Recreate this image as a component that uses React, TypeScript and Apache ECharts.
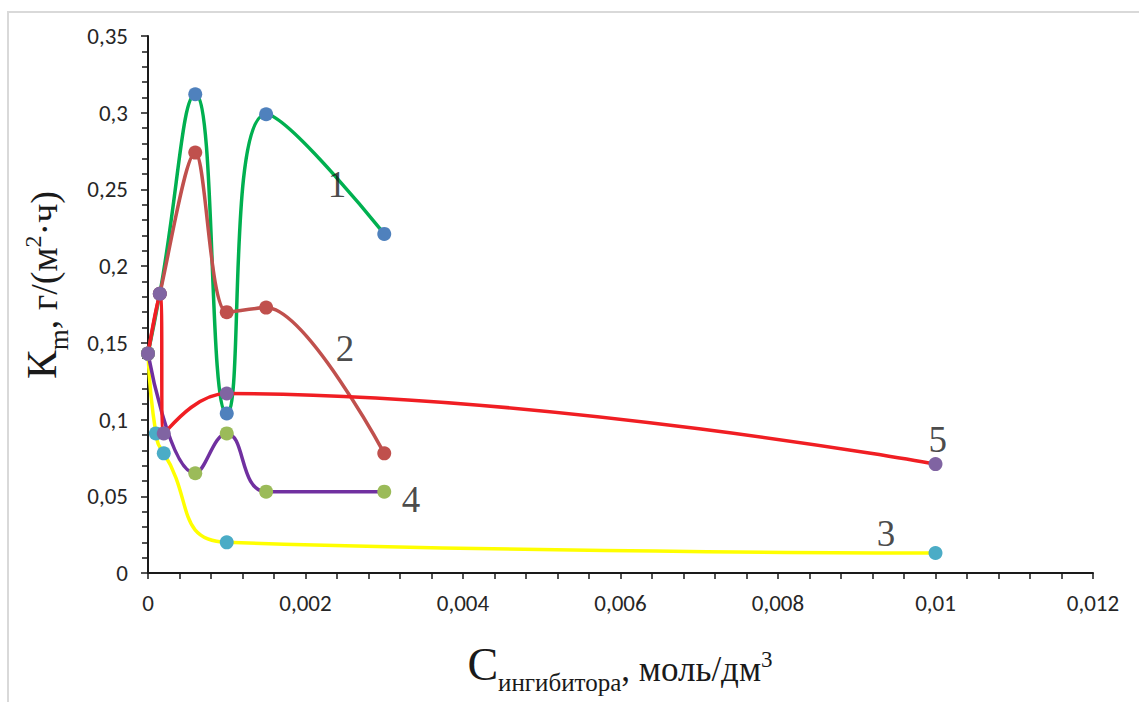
import React, { useEffect, useRef } from "react";
import * as echarts from "echarts";

// ---- data ----
const s1X = [0, 0.00015, 0.0006, 0.001, 0.0015, 0.003];
const s1Y = [0.143, 0.182, 0.312, 0.104, 0.299, 0.221];
const s2X = [0, 0.00015, 0.0006, 0.001, 0.0015, 0.003];
const s2Y = [0.143, 0.182, 0.274, 0.17, 0.173, 0.078];
const s3X = [0, 0.0001, 0.0002, 0.001, 0.01];
const s3Y = [0.143, 0.091, 0.078, 0.02, 0.013];
const s4X = [0, 0.0006, 0.001, 0.0015, 0.003];
const s4Y = [0.143, 0.065, 0.091, 0.053, 0.053];
const s5X = [0, 0.00015, 0.0002, 0.001, 0.01];
const s5Y = [0.143, 0.182, 0.091, 0.117, 0.071];

const curveNames = ["1", "2", "3", "4", "5"];
const curveLabelX = [0.0024, 0.0025, 0.00937, 0.00334, 0.01003];
const curveLabelY = [0.2529, 0.1466, 0.026, 0.0476, 0.0867];

const lineColors = ["#00B050", "#C0504D", "#FFFF00", "#7030A0", "#F01E23"];
const markerColors = ["#4F81BD", "#C0504D", "#4BACC6", "#9BBB59", "#8064A2"];

const pairs = (xs: number[], ys: number[]) => xs.map((x, i) => [x, ys[i]]);
const fmt = (v: number) => String(parseFloat(v.toFixed(6))).replace(".", ",");

export default function App() {
  const ref = useRef<HTMLDivElement>(null);
  useEffect(() => {
    if (!ref.current) return;
    const chart = echarts.init(ref.current, undefined, { renderer: "svg" });
    const all = [
      pairs(s1X, s1Y),
      pairs(s2X, s2Y),
      pairs(s3X, s3Y),
      pairs(s4X, s4Y),
      pairs(s5X, s5Y),
    ];
    const smooths = [0.5, 0.3, 0.5, 0.45, 0.45];
    const tickFont = "Carlito, 'Open Sans', sans-serif";
    const serif = "Liberation Serif";
    const ink = "#1a1a1a";
    const series: any[] = all.map((d, i) => ({
      type: "line",
      data: d,
      smooth: smooths[i],
      symbol: "circle",
      symbolSize: 14,
      lineStyle: { color: lineColors[i], width: 3.5 },
      itemStyle: { color: markerColors[i], borderWidth: 0 },
      z: 2 + i,
    }));
    series.push({
      type: "scatter",
      symbolSize: 0,
      z: 20,
      data: curveNames.map((n, i) => ({ name: n, value: [curveLabelX[i], curveLabelY[i]] })),
      label: {
        show: true,
        position: "inside",
        formatter: (p: any) => p.name,
        fontFamily: serif,
        fontSize: 37,
        color: ink,
      },
    });
    chart.setOption({
      animation: false,
      backgroundColor: "#ffffff",
      grid: { left: 148, right: 46, top: 36, bottom: 129, containLabel: false },
      xAxis: {
        type: "value",
        min: 0,
        max: 0.012,
        interval: 0.002,
        splitLine: { show: false },
        axisLine: { show: true, onZero: false, lineStyle: { color: ink, width: 2 } },
        axisTick: { show: true, length: 6, lineStyle: { color: ink, width: 1.5 } },
        minorTick: { show: true, splitNumber: 5, length: 6, lineStyle: { color: ink, width: 1.5 } },
        axisLabel: { margin: 18, fontSize: 23, color: "#262626", fontFamily: tickFont, formatter: fmt },
      },
      yAxis: {
        type: "value",
        min: 0,
        max: 0.35,
        interval: 0.05,
        splitLine: { show: false },
        axisLine: { show: true, lineStyle: { color: ink, width: 2 } },
        axisTick: { show: true, length: 7, lineStyle: { color: ink, width: 1.5 } },
        minorTick: { show: true, splitNumber: 5, length: 6, lineStyle: { color: ink, width: 1.5 } },
        axisLabel: { margin: 20, fontSize: 23, color: "#262626", fontFamily: tickFont, formatter: fmt },
      },
      graphic: [
        {
          type: "rect",
          shape: { x: 8, y: 12, width: 1150, height: 720 },
          style: { fill: "none", stroke: "#D9D9D9", lineWidth: 2 },
          silent: true,
        },
        {
          type: "text",
          x: 46,
          y: 285,
          rotation: Math.PI / 2,
          style: {
            text: "{k|К}{m|m}{t|, г/(м}{s|2}{t|·ч)}",
            align: "center",
            verticalAlign: "middle",
            fill: ink,
            fontFamily: serif,
            fontSize: 38,
            rich: {
              k: { fontFamily: serif, fontSize: 43, verticalAlign: "bottom", padding: [0, 0, 9, 0], fill: ink },
              m: { fontFamily: serif, fontSize: 27, verticalAlign: "bottom", fill: ink },
              t: { fontFamily: serif, fontSize: 38, verticalAlign: "bottom", padding: [0, 0, 9, 0], fill: ink },
              s: { fontFamily: serif, fontSize: 24, verticalAlign: "bottom", padding: [0, 0, 27, 0], fill: ink },
            },
          },
        },
        {
          type: "text",
          x: 620,
          y: 668,
          style: {
            text: "{c|С}{i|ингибитора}{t|, моль/дм}{s|3}",
            align: "center",
            verticalAlign: "middle",
            fill: ink,
            fontFamily: serif,
            fontSize: 34,
            rich: {
              c: { fontFamily: serif, fontSize: 46, verticalAlign: "bottom", padding: [0, 0, 8, 0], fill: ink },
              i: { fontFamily: serif, fontSize: 25, verticalAlign: "bottom", fill: ink },
              t: { fontFamily: serif, fontSize: 35, verticalAlign: "bottom", padding: [0, 0, 8, 0], fill: ink },
              s: { fontFamily: serif, fontSize: 23, verticalAlign: "bottom", padding: [0, 0, 24, 0], fill: ink },
            },
          },
        },
      ],
      series,
    });
    return () => chart.dispose();
  }, []);
  return (
    <div
      ref={ref}
      style={{ position: "fixed", left: 0, top: 0, width: 1139, height: 702, background: "#fff" }}
    />
  );
}
